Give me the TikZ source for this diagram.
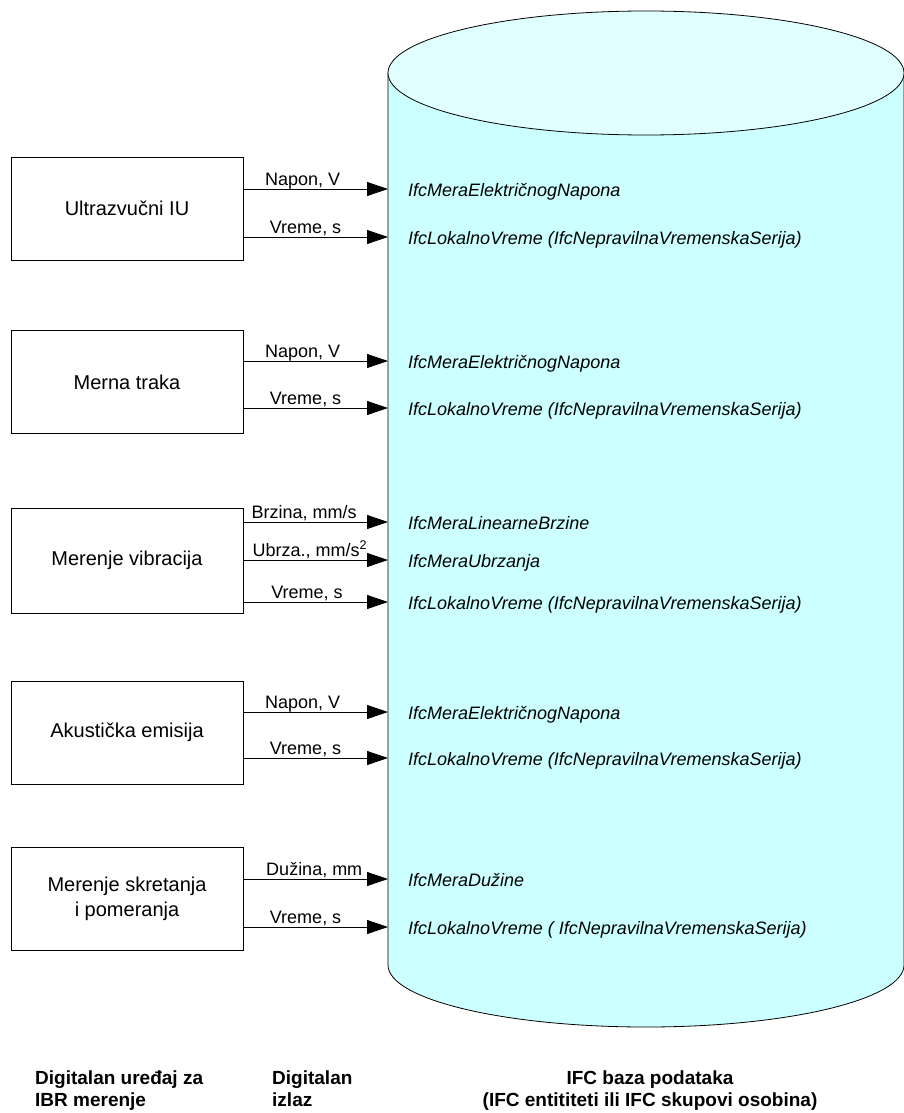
\documentclass[tikz,border=0pt]{standalone}
\usepackage{fontspec}
\setmainfont{Liberation Sans}
\usetikzlibrary{arrows.meta}
\definecolor{dbbody}{HTML}{CCFFFF}
\definecolor{dbtop}{HTML}{E0FFFF}

\begin{document}
\begin{tikzpicture}[x=1pt,y=-1pt,
    device/.style={draw,line width=0.8pt,minimum width=232pt,minimum height=103pt,align=center,font=\fontsize{20}{25}\selectfont},
    entity/.style={anchor=west,inner xsep=20pt,inner ysep=0pt,text height=14pt,text depth=0pt,font=\fontsize{18}{22}\selectfont\itshape},
    quantity/.style={anchor=base,yshift=4pt,inner sep=0pt,font=\fontsize{18}{22}\selectfont},
    caption/.style={inner sep=0pt,font=\fontsize{19}{22}\selectfont\bfseries},
    flow/.style={line width=0.8pt,-{Triangle[length=21pt,width=14pt]}}]
    \useasboundingbox (0,0) rectangle (903,1113);

    % Database cylinder
    \filldraw[fill=dbbody,line width=0.8pt] (388,73) -- (388,965)
        arc[start angle=180,end angle=360,x radius=258pt,y radius=62pt] -- (904,73);
    \filldraw[fill=dbtop,line width=0.8pt] (646,73) ellipse [x radius=258pt,y radius=62pt];

    % Measuring devices
    \node[device] (dev1) at (127,208.5) {Ultrazvučni IU};
    \node[device] (dev2) at (127,382) {Merna traka};
    \node[device,minimum height=105pt] (dev3) at (127,560.5) {Merenje vibracija};
    \node[device] (dev4) at (127,732.5) {Akustička emisija};
    \node[device] (dev5) at (127,899) {Merenje skretanja\\i pomeranja};

    % IFC entities in the database
    \node[entity] (ifc1_1) at (388,189) {IfcMeraElektričnogNapona};
    \node[entity] (ifc1_2) at (388,237) {IfcLokalnoVreme (IfcNepravilnaVremenskaSerija)};
    \node[entity] (ifc2_1) at (388,361) {IfcMeraElektričnogNapona};
    \node[entity] (ifc2_2) at (388,408) {IfcLokalnoVreme (IfcNepravilnaVremenskaSerija)};
    \node[entity] (ifc3_1) at (388,522) {IfcMeraLinearneBrzine};
    \node[entity] (ifc3_2) at (388,560) {IfcMeraUbrzanja};
    \node[entity] (ifc3_3) at (388,602) {IfcLokalnoVreme (IfcNepravilnaVremenskaSerija)};
    \node[entity] (ifc4_1) at (388,712) {IfcMeraElektričnogNapona};
    \node[entity] (ifc4_2) at (388,758) {IfcLokalnoVreme (IfcNepravilnaVremenskaSerija)};
    \node[entity] (ifc5_1) at (388,879) {IfcMeraDužine};
    \node[entity] (ifc5_2) at (388,927) {IfcLokalnoVreme ( IfcNepravilnaVremenskaSerija)};

    % Digital outputs
    \draw[flow] (dev1.east |- ifc1_1.west) -- node[quantity,pos=.41] {Napon, V} (ifc1_1.west);
    \draw[flow] (dev1.east |- ifc1_2.west) -- node[quantity,pos=.43] {Vreme, s} (ifc1_2.west);
    \draw[flow] (dev2.east |- ifc2_1.west) -- node[quantity,pos=.41] {Napon, V} (ifc2_1.west);
    \draw[flow] (dev2.east |- ifc2_2.west) -- node[quantity,pos=.43] {Vreme, s} (ifc2_2.west);
    \draw[flow] (dev3.east |- ifc3_1.west) -- node[quantity,pos=.42] {Brzina, mm/s} (ifc3_1.west);
    \draw[flow] (dev3.east |- ifc3_2.west) -- node[quantity,pos=.46] {Ubrza., mm/s\textsuperscript{2}} (ifc3_2.west);
    \draw[flow] (dev3.east |- ifc3_3.west) -- node[quantity,pos=.44] {Vreme, s} (ifc3_3.west);
    \draw[flow] (dev4.east |- ifc4_1.west) -- node[quantity,pos=.41] {Napon, V} (ifc4_1.west);
    \draw[flow] (dev4.east |- ifc4_2.west) -- node[quantity,pos=.43] {Vreme, s} (ifc4_2.west);
    \draw[flow] (dev5.east |- ifc5_1.west) -- node[quantity,pos=.49] {Dužina, mm} (ifc5_1.west);
    \draw[flow] (dev5.east |- ifc5_2.west) -- node[quantity,pos=.43] {Vreme, s} (ifc5_2.west);

    % Column captions
    \node[caption,anchor=north west,align=left] (cap_device) at (35,1071) {Digitalan uređaj za\\IBR merenje};
    \node[caption,anchor=north west,align=left] (cap_output) at (272,1071) {Digitalan\\izlaz};
    \node[caption,anchor=north,align=center] (cap_db) at (650,1071) {IFC baza podataka\\(IFC entititeti ili IFC skupovi osobina)};
\end{tikzpicture}
\end{document}
